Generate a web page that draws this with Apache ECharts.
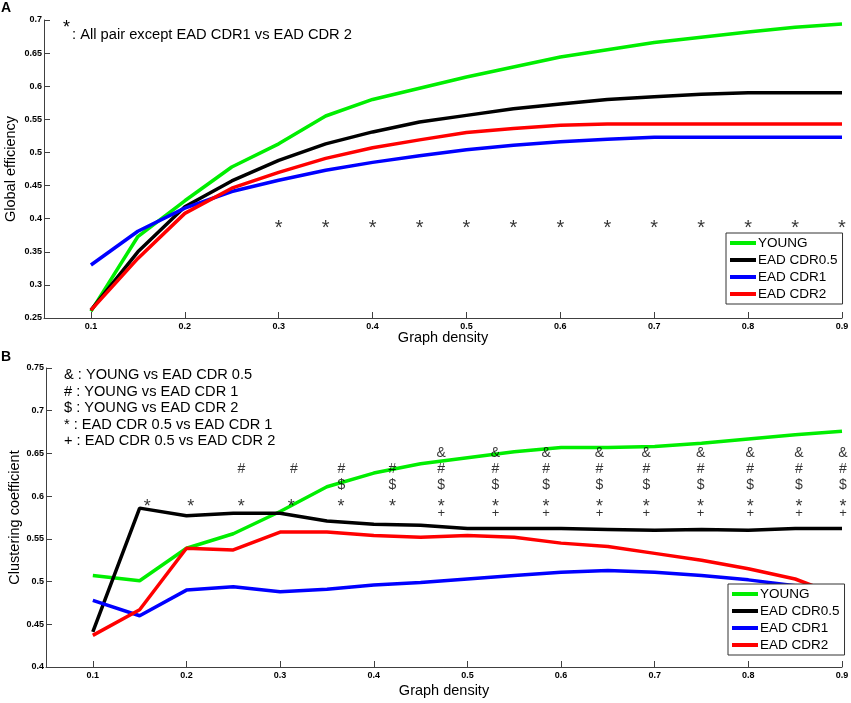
<!DOCTYPE html>
<html>
<head>
<meta charset="utf-8">
<script src="https://cdn.jsdelivr.net/npm/echarts@6/dist/echarts.min.js"></script>
<style>html,body{margin:0;padding:0;background:#fff}#c{width:851px;height:703px}</style>
</head>
<body>
<div id="c"></div>
<script>
// ---- data ----
const density = [0.1,0.15,0.2,0.25,0.3,0.35,0.4,0.45,0.5,0.55,0.6,0.65,0.7,0.75,0.8,0.85,0.9];
const xTicks = [0.1,0.2,0.3,0.4,0.5,0.6,0.7,0.8,0.9];
const seriesNames = ['YOUNG','EAD CDR0.5','EAD CDR1','EAD CDR2'];
const seriesColors = ['#00ee00','#000000','#0000ff','#ff0000'];

// Panel A: global efficiency
const geYoung = [0.260,0.373,0.427,0.478,0.513,0.555,0.580,0.597,0.614,0.629,0.644,0.655,0.666,0.674,0.682,0.689,0.694];
const geCdr05 = [0.262,0.350,0.418,0.457,0.488,0.513,0.531,0.546,0.556,0.566,0.573,0.580,0.584,0.588,0.590,0.590,0.590];
const geCdr1  = [0.330,0.381,0.416,0.441,0.458,0.473,0.485,0.495,0.504,0.511,0.516,0.520,0.523,0.523,0.523,0.523,0.523];
const geCdr2  = [0.262,0.340,0.408,0.446,0.470,0.491,0.507,0.519,0.530,0.536,0.541,0.543,0.543,0.543,0.543,0.543,0.543];
const geStarX = [0.3,0.35,0.4,0.45,0.5,0.55,0.6,0.65,0.7,0.75,0.8,0.85,0.9];
const geStarY = 0.385;

// Panel B: clustering coefficient
const ccYoung = [0.507,0.501,0.539,0.556,0.582,0.611,0.627,0.638,0.645,0.652,0.657,0.657,0.658,0.662,0.667,0.672,0.676];
const ccCdr05 = [0.441,0.586,0.577,0.580,0.580,0.571,0.567,0.566,0.562,0.562,0.562,0.561,0.560,0.561,0.560,0.562,0.562];
const ccCdr1  = [0.478,0.460,0.490,0.494,0.488,0.491,0.496,0.499,0.503,0.507,0.511,0.513,0.511,0.507,0.502,0.495,0.488];
const ccCdr2  = [0.437,0.467,0.539,0.537,0.558,0.558,0.554,0.552,0.554,0.552,0.545,0.541,0.533,0.525,0.515,0.503,0.482];

// significance marks in panel B (x positions and row level)
const colsAll = [0.472,0.53,0.584,0.641,0.691,0.749,0.802,0.854,0.901];
const ampX    = colsAll;
const hashX   = [0.2586,0.3147,0.3655,0.42].concat(colsAll);
const dollarX = [0.3655,0.42].concat(colsAll);
const starX   = [0.158,0.2045,0.2586,0.312,0.365,0.42].concat(colsAll);
const plusX   = colsAll;
const markRows = {amp:0.6506, hash:0.6312, dollar:0.6128, star:0.587, plus:0.5797};

const legendA = ['& : YOUNG vs EAD CDR 0.5','# : YOUNG vs EAD CDR 1','$ : YOUNG vs EAD CDR 2','* : EAD CDR 0.5 vs EAD CDR 1','+ : EAD CDR 0.5 vs EAD CDR 2'];

// ---- chart ----
const FONT = 'Arial, Liberation Sans, sans-serif';
const chart = echarts.init(document.getElementById('c'), null, {renderer:'canvas'});
const axisCol = '#404040';
const tickLabel = {color:'#000', fontSize:9, fontWeight:'bold', fontFamily:FONT};
const nameStyle = {color:'#000', fontSize:14.5, fontFamily:FONT};

function xAxis(gi, gap){
  return {type:'value', gridIndex:gi, min:0.05, max:0.9,
    name:'Graph density', nameLocation:'middle', nameGap:gap, nameMoveOverlap:false, nameTextStyle:nameStyle,
    axisLine:{lineStyle:{color:axisCol, width:1}},
    axisTick:{inside:true, length:6, lineStyle:{color:axisCol}, customValues:xTicks},
    axisLabel:Object.assign({margin:4, customValues:xTicks, formatter:v=>String(+v.toFixed(2))}, tickLabel),
    splitLine:{show:false}};
}
function yAxis(gi,min,max,name,gap){
  return {type:'value', gridIndex:gi, min:min, max:max, interval:0.05,
    name:name, nameLocation:'middle', nameGap:gap, nameMoveOverlap:false, nameTextStyle:nameStyle,
    axisLine:{show:true, lineStyle:{color:axisCol, width:1}},
    axisTick:{show:true, inside:true, length:6, lineStyle:{color:axisCol}},
    axisLabel:Object.assign({margin:2, formatter:v=>String(+v.toFixed(2))}, tickLabel),
    splitLine:{show:false}};
}
function pairs(xs, ys){ return xs.map((x,i)=>[x, ys[i]]); }
function lineSeries(name, data, gi, color){
  return {type:'line', name:name, xAxisIndex:gi, yAxisIndex:gi, data:pairs(density,data),
    symbol:'none', lineStyle:{color:color, width:3.5}, itemStyle:{color:color}, z:3};
}
function markSeries(xs, y, ch, gi, size){
  return {type:'scatter', xAxisIndex:gi, yAxisIndex:gi, data:xs.map(x=>[x,y]),
    symbolSize:1, itemStyle:{color:'rgba(0,0,0,0)'}, silent:true, z:4, clip:false,
    label:{show:true, position:'inside', formatter:ch, color:'#000', fontSize:size, fontFamily:FONT}};
}

const series = [
  lineSeries(seriesNames[0], geYoung, 0, seriesColors[0]),
  lineSeries(seriesNames[1], geCdr05, 0, seriesColors[1]),
  lineSeries(seriesNames[2], geCdr1, 0, seriesColors[2]),
  lineSeries(seriesNames[3], geCdr2, 0, seriesColors[3]),
  lineSeries(seriesNames[0], ccYoung, 1, seriesColors[0]),
  lineSeries(seriesNames[1], ccCdr05, 1, seriesColors[1]),
  lineSeries(seriesNames[2], ccCdr1, 1, seriesColors[2]),
  lineSeries(seriesNames[3], ccCdr2, 1, seriesColors[3]),
  markSeries(geStarX, geStarY, '*', 0, 20),
  markSeries(ampX, markRows.amp, '&', 1, 14),
  markSeries(hashX, markRows.hash, '#', 1, 14),
  markSeries(dollarX, markRows.dollar, '$', 1, 14),
  markSeries(starX, markRows.star, '*', 1, 18),
  markSeries(plusX, markRows.plus, '+', 1, 13)
];

const legendCommon = {orient:'vertical', data:seriesNames, backgroundColor:'#fff', icon:'rect',
  borderColor:'#333', borderWidth:1, borderRadius:0, padding:[2,5,2,4], itemGap:1,
  itemWidth:26, itemHeight:4,
  textStyle:{color:'#000', fontSize:13.5, lineHeight:16, fontFamily:FONT, padding:[0,0,0,-3]}};

chart.setOption({
  animation:false,
  backgroundColor:'#fff',
  grid:[
    {left:44, right:9, top:20, height:298, containLabel:false, outerBoundsMode:'none'},
    {left:46, right:9, top:368, height:299, containLabel:false, outerBoundsMode:'none'}
  ],
  xAxis:[xAxis(0,12), xAxis(1,16)],
  yAxis:[yAxis(0,0.25,0.7,'Global efficiency',26), yAxis(1,0.4,0.75,'Clustering coefficient',24)],
  legend:[
    Object.assign({left:726, top:233}, legendCommon),
    Object.assign({left:728, top:584}, legendCommon)
  ],
  graphic:[
    {type:'text', left:1, top:1, style:{text:'A', fontSize:14, fontWeight:'bold', fill:'#000', fontFamily:FONT}},
    {type:'text', left:1, top:350, style:{text:'B', fontSize:14, fontWeight:'bold', fill:'#000', fontFamily:FONT}},
    {type:'text', left:63, top:19, style:{text:'*', fontSize:18, fill:'#000', fontFamily:FONT}},
    {type:'text', left:72, top:27, style:{text:': All pair except EAD CDR1 vs EAD CDR 2', fontSize:14.7, fill:'#000', fontFamily:FONT}},
    {type:'text', left:64, top:367, style:{text:legendA.join('\n'), fontSize:14.6, lineHeight:16.5, fill:'#000', fontFamily:FONT}}
  ],
  series:series
});
</script>
</body>
</html>
